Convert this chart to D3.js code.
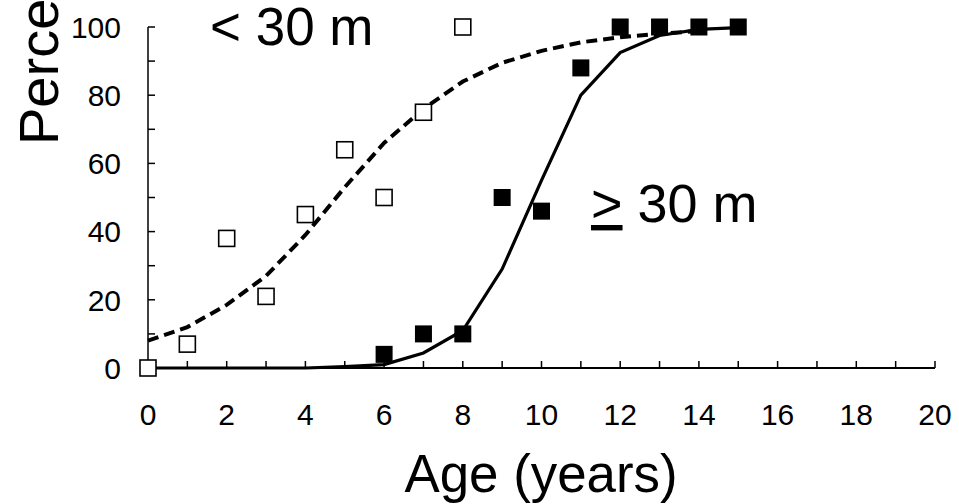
<!DOCTYPE html>
<html>
<head>
<meta charset="utf-8">
<script src="https://cdn.jsdelivr.net/npm/d3@7"></script>
<style>
  body { margin: 0; background: #fff; }
  text { font-family: "Liberation Sans", Arial, sans-serif; fill: #000; }
</style>
</head>
<body>
<div id="chart"></div>
<script>
// observed proportions, < 30 m (open squares)
const ageShallow = [0, 1, 2, 3, 4, 5, 6, 7, 8];
const pctShallow = [0, 7, 38, 21, 45, 64, 50, 75, 100];

// observed proportions, >= 30 m (filled squares)
const ageDeep = [6, 7, 8, 9, 10, 11, 12, 13, 14, 15];
const pctDeep = [4, 10, 10, 50, 46, 88, 100, 100, 100, 100];

// fitted curves
const fitAgeShallow = [0, 1, 2, 3, 4, 5, 6, 7, 8, 9, 10, 11, 12, 13, 14];
const fitShallow = [8, 12, 18.5, 27, 39, 53, 66, 76, 84, 89.5, 93, 95.5, 97, 98, 98.8];
const fitAgeDeep = [0, 1, 2, 3, 4, 5, 6, 7, 8, 9, 10, 11, 12, 13, 14, 15];
const fitDeep = [0, 0, 0, 0, 0, 0.4, 1, 4.4, 11, 29, 55, 80, 92.5, 97.5, 99.3, 99.8];

const xTicks = [0, 2, 4, 6, 8, 10, 12, 14, 16, 18, 20];
const yTicks = [0, 20, 40, 60, 80, 100];

const width = 959;
const height = 504;

const svg = d3.select("#chart")
  .append("svg")
  .attr("width", width)
  .attr("height", height);

const x = d3.scaleLinear().domain([0, 20]).range([148, 935]);
const y = d3.scaleLinear().domain([0, 100]).range([368, 27]);

// x axis: ticks every year pointing up, labels every 2
const xAxis = svg.append("g").attr("transform", `translate(0,${y(0)})`);
xAxis.append("line")
  .attr("x1", x(0)).attr("x2", x(20))
  .attr("stroke", "#000").attr("stroke-width", 2.2);
xAxis.selectAll(".minor")
  .data(d3.range(1, 21))
  .enter().append("line")
  .attr("x1", d => x(d)).attr("x2", d => x(d))
  .attr("y1", 0).attr("y2", -7)
  .attr("stroke", "#000").attr("stroke-width", 1.5);
xAxis.selectAll(".lab")
  .data(xTicks)
  .enter().append("text")
  .attr("x", d => x(d))
  .attr("y", 57)
  .attr("text-anchor", "middle")
  .style("font-size", "30px")
  .text(d => d);

// y axis: ticks every 10 pointing right, labels every 20
const yAxis = svg.append("g").attr("transform", `translate(${x(0)},0)`);
yAxis.append("line")
  .attr("y1", y(0)).attr("y2", y(100))
  .attr("stroke", "#000").attr("stroke-width", 1.5);
yAxis.selectAll(".minor")
  .data(d3.range(10, 101, 10))
  .enter().append("line")
  .attr("y1", d => y(d)).attr("y2", d => y(d))
  .attr("x1", 0).attr("x2", 7)
  .attr("stroke", "#000").attr("stroke-width", 1.5);
yAxis.selectAll(".lab")
  .data(yTicks)
  .enter().append("text")
  .attr("x", -27)
  .attr("y", d => y(d))
  .attr("dy", "0.36em")
  .attr("text-anchor", "end")
  .style("font-size", "30px")
  .text(d => d);

// fitted lines
const line = d3.line().x(d => x(d[0])).y(d => y(d[1]));

svg.append("path")
  .datum(d3.zip(fitAgeShallow, fitShallow))
  .attr("d", line)
  .attr("fill", "none")
  .attr("stroke", "#000")
  .attr("stroke-width", 4)
  .attr("stroke-dasharray", "11,6");

svg.append("path")
  .datum(d3.zip(fitAgeDeep, fitDeep))
  .attr("d", line)
  .attr("fill", "none")
  .attr("stroke", "#000")
  .attr("stroke-width", 3.2);

// markers
const s = 16;
svg.selectAll(".open")
  .data(d3.zip(ageShallow, pctShallow))
  .enter().append("rect")
  .attr("x", d => x(d[0]) - s / 2)
  .attr("y", d => y(d[1]) - s / 2)
  .attr("width", s).attr("height", s)
  .attr("fill", "#fff")
  .attr("stroke", "#000")
  .attr("stroke-width", 1.6);

svg.selectAll(".filled")
  .data(d3.zip(ageDeep, pctDeep))
  .enter().append("rect")
  .attr("x", d => x(d[0]) - s / 2 - 0.5)
  .attr("y", d => y(d[1]) - s / 2 - 0.5)
  .attr("width", s + 1).attr("height", s + 1)
  .attr("fill", "#000");

// labels
svg.append("text")
  .attr("x", 210).attr("y", 45)
  .style("font-size", "53px")
  .text("< 30 m");

const deepLabel = svg.append("text")
  .attr("x", 591).attr("y", 222)
  .style("font-size", "54px");
deepLabel.append("tspan")
  .style("text-decoration", "underline")
  .text(">");
deepLabel.append("tspan").text(" 30 m");

svg.append("text")
  .attr("x", 541).attr("y", 492)
  .attr("text-anchor", "middle")
  .style("font-size", "54px")
  .attr("textLength", 273)
  .attr("lengthAdjust", "spacingAndGlyphs")
  .text("Age (years)");

svg.append("text")
  .attr("transform", "translate(58,145) rotate(-90)")
  .style("font-size", "56px")
  .text("Percent");
</script>
</body>
</html>
